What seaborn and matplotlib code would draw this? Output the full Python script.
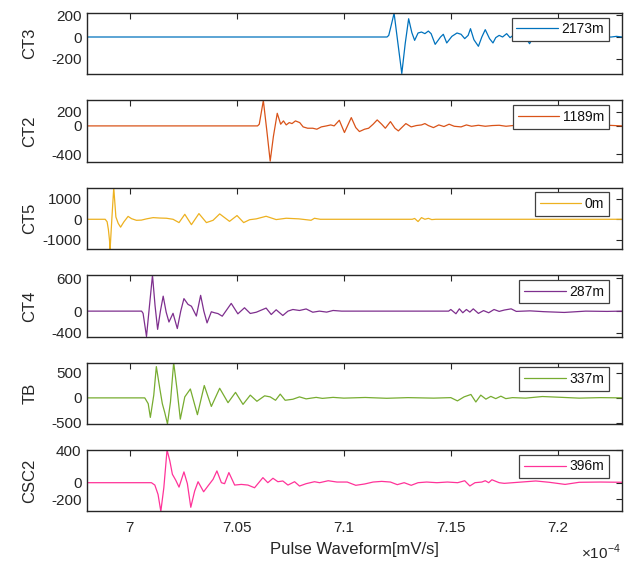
import matplotlib
matplotlib.use("Agg")
import matplotlib.pyplot as plt
import seaborn as sns
import pandas as pd

# ---- data (time in units of 1e-4 s, amplitude) ----
channels = ["CT3", "CT2", "CT5", "CT4", "TB", "CSC2"]
distances = ["2173m", "1189m", "0m", "287m", "337m", "396m"]
colors = ["#0072BD", "#D95319", "#EDB120", "#7E2F8E", "#77AC30", "#FF3399"]

t_ct3 = [6.980, 7.1202, 7.1210, 7.1223, 7.1235, 7.1253, 7.1271, 7.1287, 7.1303, 7.1318,
         7.1331, 7.1347, 7.1363, 7.1379, 7.1395, 7.1408, 7.1427, 7.1452, 7.1465, 7.1481,
         7.1505, 7.1529, 7.1548, 7.1565, 7.1581, 7.1592, 7.1608, 7.1629, 7.1645, 7.1661,
         7.1681, 7.1697, 7.1710, 7.1726, 7.1742, 7.1761, 7.1777, 7.1798, 7.1823, 7.1847,
         7.1868, 7.1887, 7.1911, 7.1935, 7.1960, 7.1984, 7.2048, 7.2145, 7.2250, 7.2274, 7.2300]
v_ct3 = [0, 0, 15, 120, 220, -60, -338, -60, 169, 40,
         -31, 37, 46, 31, 55, 31, -68, 0, 25, -55,
         6, 37, 25, -15, 15, 77, -25, -86, 0, 68,
         -15, -55, -6, 15, 0, 31, -6, 25, -15, 6,
         -62, 6, 18, -12, 12, -6, 3, -5, 0, 6, 0]

t_ct2 = [6.980, 7.0597, 7.0605, 7.0624, 7.0640, 7.0656, 7.0671, 7.0689, 7.0705, 7.0718,
         7.0731, 7.0745, 7.0758, 7.0774, 7.0794, 7.0810, 7.0831, 7.0855, 7.0874, 7.0895,
         7.0919, 7.0939, 7.0955, 7.0979, 7.1003, 7.1035, 7.1056, 7.1073, 7.1097, 7.1116,
         7.1137, 7.1156, 7.1177, 7.1194, 7.1218, 7.1239, 7.1255, 7.1274, 7.1290, 7.1315,
         7.1339, 7.1363, 7.1379, 7.1395, 7.1419, 7.1444, 7.1468, 7.1492, 7.1516, 7.1548,
         7.1573, 7.1597, 7.1629, 7.1661, 7.1694, 7.1726, 7.1758, 7.1806, 7.1871, 7.1935,
         7.2000, 7.2056, 7.2113, 7.2177, 7.2242, 7.2300]
v_ct2 = [0, 0, 24, 360, -60, -500, -150, 179, 24, 71,
         14, 47, 33, 71, 47, -14, -33, -33, -47, -14,
         0, 14, 0, 80, -94, 118, -24, -80, -47, -33,
         24, 85, 24, -33, 61, -33, -71, -14, 33, -14,
         5, 14, 33, 5, -24, 14, -9, 24, -5, -14,
         14, -5, 9, -5, 5, 9, -5, 10, -5, 8,
         -5, -47, 5, -5, 8, 0]

t_ct5 = [6.980, 6.9885, 6.9894, 6.9900, 6.9905, 6.9908, 6.9916, 6.9925, 6.9935, 6.9946,
         6.9957, 6.9972, 6.9992, 7.0008, 7.0031, 7.0054, 7.0078, 7.0109, 7.0140, 7.0171,
         7.0202, 7.0230, 7.0257, 7.0288, 7.0323, 7.0358, 7.0389, 7.0420, 7.0466, 7.0501,
         7.0532, 7.0560, 7.0591, 7.0637, 7.0684, 7.0731, 7.0790, 7.0847, 7.0863, 7.0890,
         7.1320, 7.1331, 7.1347, 7.1363, 7.1379, 7.1395, 7.1411, 7.1430, 7.2300]
v_ct5 = [0, 0, -120, -500, -1000, -1440, 0, 1520, 110, -200,
         -380, -130, 140, 30, -50, -40, 20, 80, 60, 50,
         0, -160, 240, -260, 275, -160, -50, 260, -100, 180,
         -160, -20, 20, 145, -15, 50, 20, -48, 48, 0,
         0, 40, -110, 80, 0, 45, -15, 0, 0]

t_ct4 = [6.980, 7.0055, 7.0062, 7.0078, 7.0092, 7.0106, 7.0118, 7.0130, 7.0143, 7.0156,
         7.0170, 7.0183, 7.0202, 7.0222, 7.0238, 7.0253, 7.0272, 7.0288, 7.0311, 7.0331,
         7.0346, 7.0361, 7.0381, 7.0396, 7.0412, 7.0432, 7.0474, 7.0505, 7.0536, 7.0563,
         7.0591, 7.0637, 7.0661, 7.0684, 7.0715, 7.0739, 7.0762, 7.0793, 7.0824, 7.0855,
         7.0886, 7.0920, 7.0950, 7.0990, 7.1490, 7.1500, 7.1524, 7.1540, 7.1556, 7.1573,
         7.1589, 7.1605, 7.1629, 7.1653, 7.1677, 7.1702, 7.1726, 7.1750, 7.1782, 7.1806,
         7.1870, 7.1935, 7.2030, 7.2130, 7.2230, 7.2300]
v_ct4 = [0, 0, -40, -466, 100, 660, 100, -335, 0, 275,
         -20, -200, -40, -320, 0, 230, 124, 90, -90, 290,
         0, -216, -12, -30, -45, -93, 142, -50, 62, -43,
         -20, 56, -62, 25, -80, 0, 30, 12, 40, -20,
         0, -18, 12, 0, 0, 30, -48, 42, -30, 30,
         -18, 42, -42, 10, -30, 30, -5, 20, 42, -5,
         5, -10, -24, 0, -5, 0]

t_tb = [6.980, 7.0070, 7.0086, 7.0096, 7.0112, 7.0124, 7.0140, 7.0152, 7.0163, 7.0176,
        7.0190, 7.0205, 7.0221, 7.0236, 7.0257, 7.0283, 7.0316, 7.0348, 7.0381, 7.0420,
        7.0459, 7.0494, 7.0529, 7.0563, 7.0594, 7.0630, 7.0656, 7.0681, 7.0703, 7.0726,
        7.0762, 7.0793, 7.0824, 7.0871, 7.0900, 7.0950, 7.1000, 7.1100, 7.1200, 7.1300,
        7.1420, 7.1500, 7.1531, 7.1562, 7.1594, 7.1617, 7.1640, 7.1664, 7.1687, 7.1710,
        7.1734, 7.1757, 7.1788, 7.1850, 7.1928, 7.2021, 7.2100, 7.2200, 7.2300]
v_tb = [0, 0, -116, -390, 55, 625, 192, -116, -288, -520,
        -82, 705, 158, -425, 20, 178, -336, 247, -171, 192,
        -96, 110, -130, 55, -68, 41, 20, -48, 75, -48,
        -27, 20, -20, 10, -10, 10, -5, 8, -8, 5,
        -5, 5, -60, 20, 68, -82, 55, -25, 30, -15,
        34, -15, 5, -5, 27, 10, -5, 5, 0]

t_csc2 = [6.980, 7.0101, 7.0117, 7.0132, 7.0145, 7.0159, 7.0174, 7.0187, 7.0199, 7.0215,
          7.0230, 7.0253, 7.0269, 7.0285, 7.0303, 7.0319, 7.0345, 7.0365, 7.0389, 7.0407,
          7.0428, 7.0443, 7.0463, 7.0490, 7.0521, 7.0552, 7.0583, 7.0622, 7.0645, 7.0669,
          7.0692, 7.0715, 7.0739, 7.0770, 7.0793, 7.0824, 7.0863, 7.0887, 7.0927, 7.0968,
          7.1016, 7.1056, 7.1097, 7.1137, 7.1177, 7.1218, 7.1250, 7.1282, 7.1315, 7.1347,
          7.1387, 7.1435, 7.1484, 7.1532, 7.1565, 7.1589, 7.1613, 7.1645, 7.1661, 7.1677,
          7.1692, 7.1726, 7.1750, 7.1790, 7.1897, 7.1960, 7.2034, 7.2100, 7.2200, 7.2300]
v_csc2 = [0, 0, -29, -144, -350, -62, 400, 268, 103, 29,
          -54, 132, -12, -301, -103, 12, -111, -41, 41, 144,
          0, -12, 124, -29, -21, -29, -62, 62, 0, 54,
          12, 21, -29, 12, -41, -12, 12, 0, 24, 8,
          8, -32, -16, 8, 16, 8, -24, 0, -32, 0,
          8, 0, 8, 0, 24, -40, 0, 8, 24, 0,
          36, 0, -8, 0, 21, 5, -21, 5, 8, 5]

series_t = [t_ct3, t_ct2, t_ct5, t_ct4, t_tb, t_csc2]
series_v = [v_ct3, v_ct2, v_ct5, v_ct4, v_tb, v_csc2]

ylims = [(-345, 222), (-508, 362), (-1440, 1520), (-466, 660), (-520, 705), (-350, 400)]
yticks = [[-200, 0, 200], [-400, 0, 200], [-1000, 0, 1000], [-400, 0, 600],
          [-500, 0, 500], [-200, 0, 400]]
xticks = [7.0, 7.05, 7.1, 7.15, 7.2]
xticklabels = ["7", "7.05", "7.1", "7.15", "7.2"]

# ---- style ----
sns.set_theme(style="white")
plt.rcParams["font.family"] = ["Liberation Sans", "DejaVu Sans"]
plt.rcParams["axes.unicode_minus"] = False
dark = "#262626"

W, H = 630, 562
fig = plt.figure(figsize=(W / 100, H / 100), dpi=100)

left_px, width_px = 87, 535
top0, step, hpx = 13, 87.4, 61.3

for i, ch in enumerate(channels):
    top = top0 + i * step
    ax = fig.add_axes([left_px / W, 1 - (top + hpx) / H, width_px / W, hpx / H])
    df = pd.DataFrame({"t": series_t[i], "v": series_v[i]})
    sns.lineplot(data=df, x="t", y="v", ax=ax, color=colors[i], lw=0.9,
                 estimator=None, sort=False, label=distances[i])
    ax.set_xlim(6.98, 7.23)
    ax.set_ylim(*ylims[i])
    ax.set_yticks(yticks[i])
    ax.set_yticklabels([str(v) for v in yticks[i]])
    ax.set_xticks(xticks)
    ax.tick_params(direction="in", length=4, width=0.8, colors=dark,
                   top=True, right=True, labelsize=11)
    ax.tick_params(axis="y", pad=4)
    ax.tick_params(axis="x", pad=7)
    for sp in ax.spines.values():
        sp.set_color(dark)
        sp.set_linewidth(1.0)
        sp.set_visible(True)
    ax.set_ylabel(ch, fontsize=12, color=dark)
    ax.yaxis.set_label_coords(-0.093, 0.5)
    if i == len(channels) - 1:
        ax.set_xticklabels(xticklabels)
        ax.set_xlabel("Pulse Waveform[mV/s]", fontsize=12, color=dark, labelpad=5)
    else:
        ax.set_xticklabels([])
        ax.set_xlabel("")
    leg = ax.legend(loc="upper right", bbox_to_anchor=((609 - left_px) / width_px, 1 - 4.5 / hpx),
                    borderaxespad=0, fontsize=10, handlelength=3.0, handletextpad=0.25,
                    borderpad=0.35, frameon=True, fancybox=False, framealpha=1)
    leg.get_frame().set_edgecolor("#404040")
    leg.get_frame().set_linewidth(0.9)
    for txt in leg.get_texts():
        txt.set_color("#111111")

fig.text(621 / W, 1 - 552 / H, "×10$^{\\mathregular{-4}}$", ha="right", va="center",
         fontsize=11, color=dark)

fig.savefig("out.png", dpi=100)
